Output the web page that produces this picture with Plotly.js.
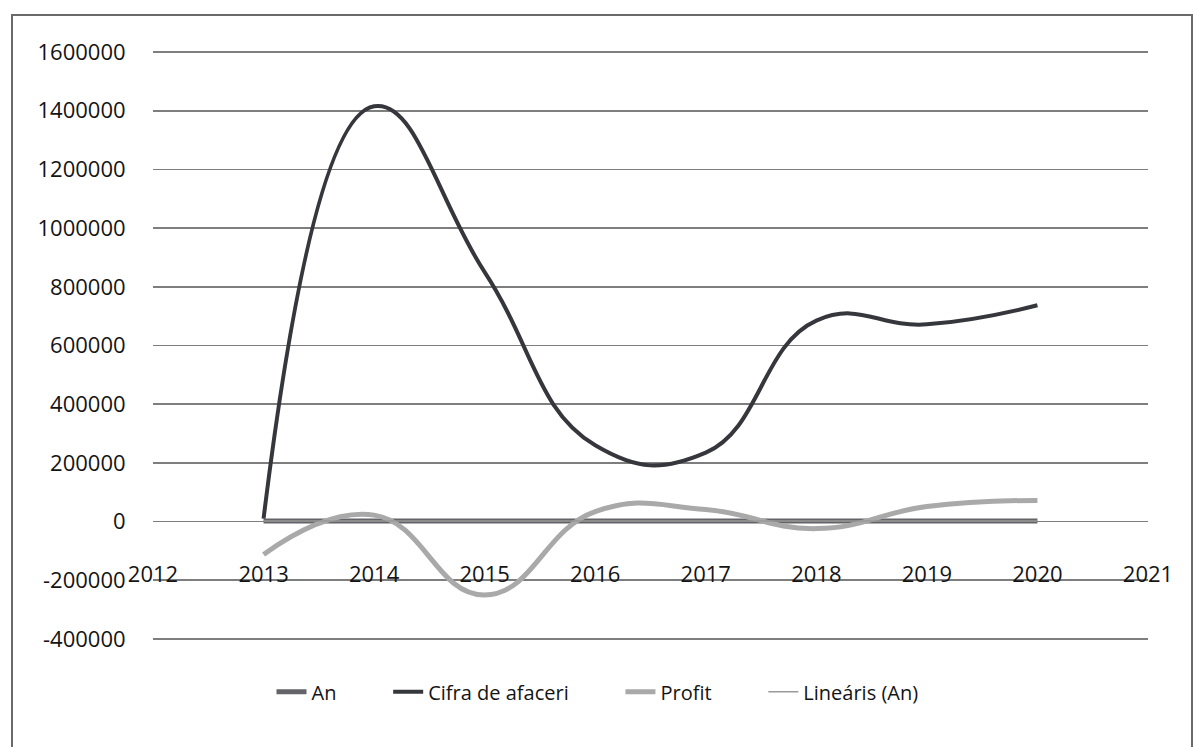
<!DOCTYPE html>
<html>
<head>
<meta charset="utf-8">
<script src="https://cdn.plot.ly/plotly-3.0.1.min.js"></script>
<style>html,body{margin:0;padding:0;background:#fff;}#chart{width:1195px;height:747px;}</style>
</head>
<body>
<div id="chart"></div>
<script>
// Data
const years = [2013, 2014, 2015, 2016, 2017, 2018, 2019, 2020];
const an = [2013, 2014, 2015, 2016, 2017, 2018, 2019, 2020];
const cifraDeAfaceri = [10000, 1415000, 850000, 260000, 235000, 685000, 672000, 737000];
const profit = [-112000, 22000, -250000, 34000, 41000, -24000, 51000, 72000];
const trendYears = [2013, 2020];
const trendAn = [2013, 2020];

const seriesNames = ['An', 'Cifra de afaceri', 'Profit', 'Lineáris (An)'];

const xTickVals = [2012, 2013, 2014, 2015, 2016, 2017, 2018, 2019, 2020, 2021];
const xTickText = ['2012', '2013', '2014', '2015', '2016', '2017', '2018', '2019', '2020', '2021'];
const yTickVals = [-400000, -200000, 0, 200000, 400000, 600000, 800000, 1000000, 1200000, 1400000, 1600000];
const yTickText = ['-400000', '-200000', '0', '200000', '400000', '600000', '800000', '1000000', '1200000', '1400000', '1600000'];

const FONT = "'Open Sans', 'Noto Sans', sans-serif";
const PAD = '\u00a0'.repeat(9);

const traces = [
  {x: years, y: an, name: seriesNames[0] + PAD, mode: 'lines', type: 'scatter',
   line: {color: '#646468', width: 5, shape: 'spline', smoothing: 1.3}},
  {x: years, y: cifraDeAfaceri, name: seriesNames[1] + PAD, mode: 'lines', type: 'scatter',
   line: {color: '#36363d', width: 4, shape: 'spline', smoothing: 1.3}},
  {x: years, y: profit, name: seriesNames[2] + PAD, mode: 'lines', type: 'scatter',
   line: {color: '#a9a9a9', width: 5, shape: 'spline', smoothing: 1.3}},
  {x: trendYears, y: trendAn, name: seriesNames[3], mode: 'lines', type: 'scatter',
   line: {color: '#9a9a9a', width: 1.5}}
];

const layout = {
  width: 1195, height: 747,
  paper_bgcolor: '#ffffff', plot_bgcolor: '#ffffff',
  margin: {l: 153, r: 47, t: 50, b: 106, pad: 0},
  font: {family: FONT, color: '#141414', size: 22},
  showlegend: true,
  legend: {orientation: 'h', xref: 'container', yref: 'container', x: 0.5, xanchor: 'center',
           y: 0.074, yanchor: 'middle', font: {family: FONT, size: 20, color: '#141414'},
           bgcolor: 'rgba(0,0,0,0)', traceorder: 'normal'},
  xaxis: {range: [2012, 2021], tickvals: xTickVals, ticktext: xTickText,
          showgrid: false, zeroline: false, showline: false, ticks: '',
          anchor: 'free', position: 0.138,
          tickfont: {family: FONT, size: 22, color: '#141414'}},
  yaxis: {range: [-407000, 1607000], tickvals: yTickVals, ticktext: yTickText,
          showgrid: true, gridcolor: '#7e7e7e', gridwidth: 1.8,
          zeroline: false, showline: false,
          ticks: 'outside', ticklen: 22, tickcolor: 'rgba(0,0,0,0)',
          tickfont: {family: FONT, size: 22, color: '#141414'}},
  shapes: [
    {type: 'rect', xref: 'paper', yref: 'paper',
     x0: (12 - 153) / 995, x1: (1192 - 153) / 995,
     y0: (641 - 770) / 591, y1: (641 - 15) / 591,
     line: {color: '#6a6a6a', width: 2}, fillcolor: 'rgba(0,0,0,0)', layer: 'below'}
  ]
};

Plotly.newPlot('chart', traces, layout, {displayModeBar: false, staticPlot: true});
</script>
</body>
</html>
